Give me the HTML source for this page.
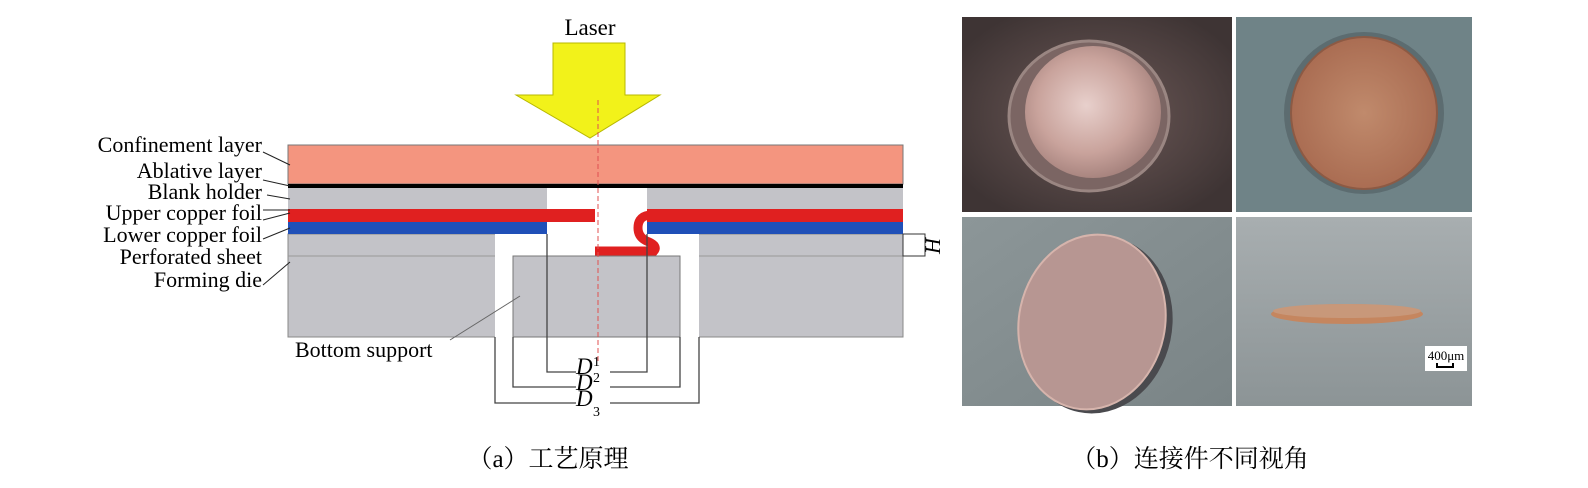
<!DOCTYPE html>
<html><head><meta charset="utf-8"><style>
html,body{margin:0;padding:0;background:#fff;width:1588px;height:488px;overflow:hidden}
</style></head><body>
<svg width="1588" height="488" viewBox="0 0 1588 488" xmlns="http://www.w3.org/2000/svg" font-family="'Liberation Serif', serif">
<defs>
<radialGradient id="g1" cx="50%" cy="50%" r="60%"><stop offset="0" stop-color="#6e5a58"/><stop offset="1" stop-color="#3e3434"/></radialGradient>
<radialGradient id="c1" cx="45%" cy="45%" r="60%"><stop offset="0" stop-color="#e8d0cc"/><stop offset="0.6" stop-color="#c9a39c"/><stop offset="1" stop-color="#a07d78"/></radialGradient>
<radialGradient id="c2" cx="50%" cy="50%" r="55%"><stop offset="0" stop-color="#c08a6c"/><stop offset="1" stop-color="#a86a50"/></radialGradient>
<linearGradient id="bg3" x1="0" y1="0" x2="1" y2="1"><stop offset="0" stop-color="#8c9698"/><stop offset="1" stop-color="#7a8486"/></linearGradient>
<linearGradient id="bg4" x1="0" y1="0" x2="0" y2="1"><stop offset="0" stop-color="#a8aeb0"/><stop offset="1" stop-color="#8c9496"/></linearGradient>
</defs>
<text x="590" y="35" font-size="23" text-anchor="middle">Laser</text>
<polygon points="553,43 625,43 625,95 660,95 590,138 516,95 553,95" fill="#f2f21a" stroke="#b8b800" stroke-width="1"/>
<rect x="288" y="145" width="615" height="39" fill="#f4957f" stroke="#777" stroke-width="1"/>
<rect x="288" y="184" width="615" height="4" fill="#000"/>
<rect x="288" y="188" width="615" height="21" fill="#c3c3c8"/>
<rect x="547" y="188" width="100" height="21" fill="#fff"/>
<rect x="288" y="234" width="615" height="103" fill="#c3c3c8" stroke="#888" stroke-width="1"/>
<line x1="288" y1="256" x2="903" y2="256" stroke="#999" stroke-width="1"/>
<rect x="495" y="234" width="204" height="104" fill="#fff"/>
<rect x="547" y="222" width="100" height="12" fill="#fff"/>
<rect x="513" y="256" width="167" height="81" fill="#c3c3c8" stroke="#777" stroke-width="1"/>
<rect x="288" y="209" width="307" height="13" fill="#e02020"/>
<rect x="647" y="209" width="256" height="13" fill="#e02020"/>
<rect x="288" y="222" width="259" height="12" fill="#2050b8"/>
<rect x="647" y="222" width="256" height="12" fill="#2050b8"/>
<path d="M652,215 Q638,215 638,228 Q638,238 649,242 Q658,246 654,251 L595,251" fill="none" stroke="#e02020" stroke-width="9"/>
<rect x="903" y="234" width="22" height="22" fill="#fff" stroke="#333" stroke-width="1"/>
<text x="0" y="0" font-size="22" font-style="italic" transform="translate(940,254) rotate(-90)">H</text>
<line x1="598" y1="100" x2="598" y2="362" stroke="#e05050" stroke-width="1" stroke-dasharray="5,3"/>
<g stroke="#444" stroke-width="1.3" fill="none">
<polyline points="547,234 547,372 647,372 647,234"/>
<polyline points="513,337 513,387 680,387 680,337"/>
<polyline points="495,337 495,403 699,403 699,337"/>
</g>
<rect x="576" y="362" width="34" height="48" fill="#fff"/>
<g font-size="23" font-style="italic">
<text x="576" y="374">D</text><text x="593" y="366" font-size="14" font-style="normal">1</text>
<text x="576" y="390">D</text><text x="593" y="382" font-size="14" font-style="normal">2</text>
<text x="576" y="406">D</text><text x="593" y="416" font-size="14" font-style="normal">3</text>
</g>
<line x1="450" y1="340" x2="520" y2="296" stroke="#666" stroke-width="1"/>
<text x="295" y="357" font-size="22">Bottom support</text>
<g font-size="22" text-anchor="end">
<text x="262" y="152">Confinement layer</text>
<text x="262" y="178">Ablative layer</text>
<text x="262" y="199">Blank holder</text>
<text x="262" y="220">Upper copper foil</text>
<text x="262" y="242">Lower copper foil</text>
<text x="262" y="264">Perforated sheet</text>
<text x="262" y="287">Forming die</text>
</g>
<g stroke="#222" stroke-width="1">
<line x1="263" y1="152" x2="290" y2="165"/>
<line x1="263" y1="180" x2="290" y2="186"/>
<line x1="267" y1="195" x2="290" y2="199"/>
<line x1="263" y1="210" x2="290" y2="210"/>
<line x1="263" y1="220" x2="290" y2="213"/>
<line x1="263" y1="239" x2="290" y2="228"/>
<line x1="263" y1="285" x2="290" y2="262"/>
</g>
<rect x="962" y="17" width="270" height="195" fill="url(#g1)"/>
<ellipse cx="1089" cy="116" rx="80" ry="75" fill="#7b6563" stroke="#9a8682" stroke-width="3"/>
<ellipse cx="1093" cy="112" rx="68" ry="66" fill="url(#c1)"/>
<rect x="1236" y="17" width="236" height="195" fill="#6f8387"/>
<ellipse cx="1364" cy="113" rx="80" ry="81" fill="#5c6c70"/>
<ellipse cx="1364" cy="113" rx="73" ry="76" fill="url(#c2)" stroke="#8c5a44" stroke-width="2"/>
<rect x="962" y="217" width="270" height="189" fill="url(#bg3)"/>
<ellipse cx="1097" cy="325" rx="75" ry="89" fill="#4a4a4e" transform="rotate(12 1097 325)"/>
<ellipse cx="1092" cy="322" rx="73" ry="88" fill="#b79692" stroke="#d6b4ac" stroke-width="2" transform="rotate(12 1092 322)"/>
<rect x="1236" y="217" width="236" height="189" fill="url(#bg4)"/>
<ellipse cx="1347" cy="314" rx="76" ry="10" fill="#c5865f"/>
<ellipse cx="1347" cy="311" rx="74" ry="7" fill="#c8987a"/>
<rect x="1425" y="346" width="42" height="25" fill="#fff"/>
<text x="1446" y="360" font-size="13" text-anchor="middle">400μm</text>
<polyline points="1437,363 1437,367 1453,367 1453,363" stroke="#000" stroke-width="2" fill="none"/>
<text x="548" y="467" font-size="25" text-anchor="middle" font-family="'Liberation Serif','Noto Serif CJK SC',serif">（a）工艺原理</text>
<text x="1190" y="467" font-size="25" text-anchor="middle" font-family="'Liberation Serif','Noto Serif CJK SC',serif">（b）连接件不同视角</text>
</svg>
</body></html>
